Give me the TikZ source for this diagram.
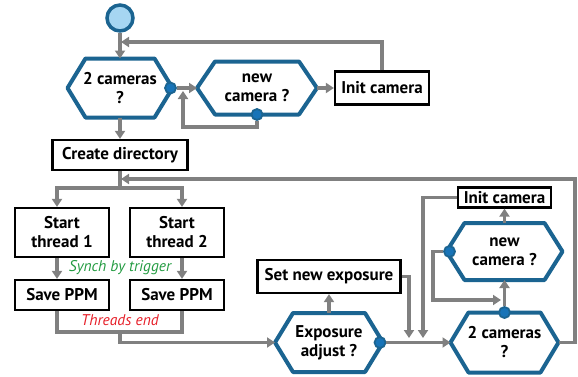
\documentclass[tikz,border=0pt]{standalone}
\usepackage{fontspec}
\setmainfont{PT Sans}
\usetikzlibrary{arrows.meta,positioning}

\definecolor{hexblue}{RGB}{27,100,145}
\definecolor{dotblue}{RGB}{24,116,184}
\definecolor{startfill}{RGB}{166,214,242}
\definecolor{flowgray}{RGB}{128,128,128}
\definecolor{synchgreen}{RGB}{35,155,65}
\definecolor{endred}{RGB}{230,30,40}

\newcommand{\stepfont}{\bfseries\fontsize{17}{19}\selectfont}
\newcommand{\remarkfont}{\itshape\fontsize{15.5}{17}\selectfont}

% hexagon decision: name, centre, width, height, text
\newcommand{\hexnode}[5]{%
  \node[hexlabel, minimum width=#3, minimum height=#4] (#1) at (#2) {#5};
  \draw[hexline] (#1.west) -- ([xshift=18pt]#1.north west) -- ([xshift=-18pt]#1.north east)
    -- (#1.east) -- ([xshift=-18pt]#1.south east) -- ([xshift=18pt]#1.south west) -- cycle;
}

\begin{document}
\begin{tikzpicture}[x=1pt, y=-1pt,
    box/.style={rectangle, draw=black, line width=2.2pt, fill=white, font=\stepfont, align=center, inner sep=1pt},
    hexlabel/.style={rectangle, inner sep=0pt, outer sep=0pt, font=\stepfont, align=center},
    hexline/.style={draw=hexblue, line width=4pt, line join=round},
    dot/.style={circle, fill=dotblue, draw=hexblue, line width=1.8pt, inner sep=0pt, minimum size=11pt},
    flow/.style={draw=flowgray, line width=3.5pt},
    arrow/.style={flow, -{Triangle[width=10pt,length=8pt]}},
    remark/.style={font=\remarkfont}
  ]
  \useasboundingbox (0,0) rectangle (578,376);

  % start
  \node[circle, draw=hexblue, fill=startfill, line width=3.5pt, minimum size=26pt, inner sep=0pt] (start) at (120,18) {};

  % camera detection
  \hexnode{camsA}{120,88}{105pt}{59pt}{2 cameras\\?}
  \hexnode{newA}{257,88}{120pt}{53pt}{new\\camera ?}
  \node[box, minimum width=94pt, minimum height=33pt] (initA) at (382,88) {Init camera};

  % recording
  \node[box, minimum width=135pt, minimum height=30pt] (mkdir) at (120,155) {Create directory};
  \node[box, minimum width=94pt, minimum height=49pt] (thrA) at (62,232.5) {Start\\thread 1};
  \node[box, minimum width=94pt, minimum height=49pt] (thrB) at (177,232.5) {Start\\thread 2};
  \node[box, minimum width=94pt, minimum height=30pt] (saveA) at (62,295) {Save PPM};
  \node[box, minimum width=94pt, minimum height=30pt] (saveB) at (177,295) {Save PPM};
  \node[remark, text=synchgreen] (synch) at (120,268) {Synch by trigger};
  \node[remark, text=endred] (tend) at (120,320) {Threads end};

  % exposure and re-check
  \hexnode{expo}{329,342.5}{108pt}{59pt}{Exposure\\adjust ?}
  \node[box, minimum width=143pt, minimum height=33pt] (setexp) at (329,276.5) {Set new exposure};
  \hexnode{camsB}{504.5,342.5}{108pt}{60pt}{2 cameras\\?}
  \hexnode{newB}{504.5,251.5}{116pt}{57pt}{new\\camera ?}
  \node[box, minimum width=93pt, minimum height=20pt, inner sep=0pt] (initB) at (504.5,197.5) {Init camera};

  % dots
  \node[dot] (dA) at ([xshift=-2pt]camsA.east) {};
  \node[dot] (dB) at (newA.south) {};
  \node[dot] (dC) at ([xshift=-3pt]expo.east) {};
  \node[dot] (dD) at (camsB.north) {};
  \node[dot] (dE) at ([xshift=3pt]newB.west) {};

  % bends
  \coordinate (topjoin) at (121,42);
  \coordinate (loopA) at (183,127);
  \coordinate (loopAend) at (183,91);
  \coordinate (fork) at (120,188);
  \coordinate (backjoin) at (121,179);
  \coordinate (endbar) at (120,332);
  \coordinate (expjoin) at (409,338);
  \coordinate (initjoin) at (423,338);
  \coordinate (loopB) at (433,300);
  \coordinate (loopBend) at (501,300);
  \coordinate (outerR) at (575,179);

  % connectors
  \draw[arrow] (start) -- (camsA.north);
  \draw[arrow] (initA.north) |- (topjoin);
  \draw[arrow] (dA) -- (newA.west);
  \draw[arrow] (dB) |- (loopA) -- (loopAend);
  \draw[arrow] (newA.east) -- (initA.west);
  \draw[arrow] (camsA.south) -- (mkdir.north);
  \draw[flow] (mkdir.south) -- (fork);
  \draw[arrow] (fork) -| ([xshift=-5pt]thrA.north);
  \draw[arrow] (fork) -| ([xshift=5pt]thrB.north);
  \draw[arrow] ([xshift=-5pt]thrA.south) -- ([xshift=-5pt]saveA.north);
  \draw[arrow] ([xshift=5pt]thrB.south) -- ([xshift=5pt]saveB.north);
  \draw[flow] ([xshift=-5pt]saveA.south) |- (endbar) -| ([xshift=5pt]saveB.south);
  \draw[arrow] (endbar) |- (expo.west);
  \draw[arrow] (expo.north) -- (setexp.south);
  \draw[arrow] (setexp.east) -| (expjoin);
  \draw[arrow] (dC) -- (camsB.west);
  \draw[arrow] (initB.west) -| (initjoin);
  \draw[arrow] (dD) -- (newB.south);
  \draw[arrow] (dE) -| (loopB) -- (loopBend);
  \draw[arrow] (newB.north) -- (initB.south);
  \draw[arrow] (camsB.east) -| (outerR) -- (backjoin);

\end{tikzpicture}
\end{document}
